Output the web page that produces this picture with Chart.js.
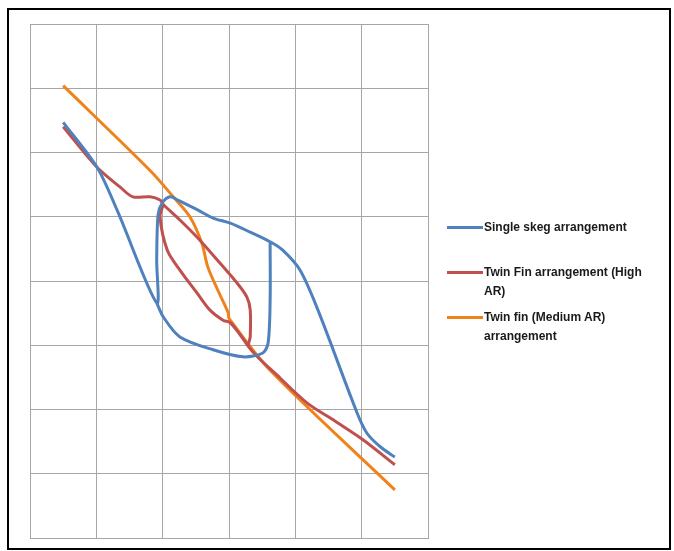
<!DOCTYPE html>
<html>
<head>
<meta charset="utf-8">
<script src="https://cdn.jsdelivr.net/npm/chart.js@4.4.0/dist/chart.umd.min.js"></script>
<style>
  body { margin: 0; background: #fff; }
  #wrap { position: relative; width: 674px; height: 551px; }
  #frame { position: absolute; left: 7px; top: 8px; width: 660px; height: 538px; border: 2px solid #000; }
  canvas { position: absolute; left: 0; top: 0; }
  .legend { position: absolute; left: 447px; font-family: "Liberation Sans Narrow", "Liberation Sans", Arial, sans-serif;
            font-weight: bold; font-size: 12px; line-height: 19px; color: #1a1a1a; width: 215px; }
  .legend .sw { position: absolute; left: 0; top: 8px; width: 36px; height: 3px; }
  .legend .txt { margin-left: 37px; }
</style>
</head>
<body>
<div id="wrap">
  <div id="frame"></div>
  <canvas id="canvas" width="674" height="551"></canvas>
  <div class="legend" style="top:218px"><div class="sw" style="background:#4F81BD"></div><div class="txt" id="lab0"></div></div>
  <div class="legend" style="top:263px"><div class="sw" style="background:#C0504D"></div><div class="txt" id="lab1"></div></div>
  <div class="legend" style="top:308px"><div class="sw" style="background:#F0821A"></div><div class="txt" id="lab2"></div></div>
</div>
<script>
//series names
const seriesNames = ["Single skeg arrangement", "Twin Fin arrangement (High AR)", "Twin fin (Medium AR) arrangement"];

//single skeg: main path over the top of the loop, then the lower branch (null = break in the line)
const skegX = [0.50, 1.01, 1.31, 1.91, 1.91, 1.93, 1.99, 2.11, 2.23, 2.52, 2.76, 3.02, 3.32, 3.62, 3.81, 4.07, 4.34, 4.93, 5.08, 5.28, 5.50,
               null,
               3.62, 3.62, 3.59, 3.51, 3.21, 2.76, 2.26, 2.01, 1.91];
const skegY = [6.47, 5.77, 5.11, 3.66, 4.33, 5.03, 5.21, 5.31, 5.26, 5.11, 4.98, 4.90, 4.76, 4.61, 4.48, 4.17, 3.55, 1.95, 1.63, 1.42, 1.26,
               null,
               4.61, 3.70, 3.04, 2.88, 2.82, 2.93, 3.13, 3.44, 3.66];

//twin fin high AR
const highX = [0.50, 1.01, 1.36, 1.55, 1.81, 1.96, 2.01, 2.26, 2.52, 2.82, 3.12, 3.27, 3.32, 3.32, 3.30, 3.77, 4.18, 4.57, 5.02, 5.50,
               null,
               2.01, 1.96, 2.07, 2.26, 2.52, 2.71, 2.91, 3.02, 3.17, 3.30];
const highY = [6.40, 5.77, 5.46, 5.31, 5.31, 5.26, 5.19, 4.95, 4.68, 4.33, 3.97, 3.75, 3.55, 3.13, 2.97, 2.49, 2.10, 1.84, 1.53, 1.14,
               null,
               5.19, 5.00, 4.48, 4.17, 3.81, 3.55, 3.39, 3.35, 3.16, 2.97];

//twin fin medium AR
const medX = [0.50, 1.81, 2.16, 2.41, 2.59, 2.68, 2.83, 2.99, 3.00, 3.62, 5.50];
const medY = [7.04, 5.72, 5.31, 5.00, 4.59, 4.22, 3.86, 3.50, 3.42, 2.61, 0.75];

const colors = ["#4F81BD", "#C0504D", "#F0821A"];

const toPoints = (xs, ys) => xs.map((x, i) => ({x: x === null ? NaN : x, y: ys[i] === null ? NaN : ys[i]}));

seriesNames.forEach((name, i) => { document.getElementById("lab" + i).innerText = name; });

const makeSet = (i, xs, ys) => ({
    label: seriesNames[i],
    data: toPoints(xs, ys),
    showLine: true,
    borderColor: colors[i],
    backgroundColor: colors[i],
    borderWidth: 3,
    pointRadius: 0,
    tension: 0.3,
    spanGaps: false
});

const context = document.getElementById("canvas").getContext('2d');
new Chart(context, {
    type: "scatter",
    data: {
        datasets: [makeSet(0, skegX, skegY), makeSet(1, highX, highY), makeSet(2, medX, medY)]
    },
    options: {
        responsive: false,
        animation: false,
        layout: { padding: { left: 30, top: 24, right: 246, bottom: 13 } },
        plugins: { legend: { display: false }, tooltip: { enabled: false } },
        scales: {
            x: {
                type: "linear", min: 0, max: 6,
                ticks: { display: false, stepSize: 1 },
                grid: { color: "#a6a6a6", lineWidth: 1, drawTicks: false },
                border: { color: "#a6a6a6" }
            },
            y: {
                type: "linear", min: 0, max: 8,
                ticks: { display: false, stepSize: 1 },
                grid: { color: "#a6a6a6", lineWidth: 1, drawTicks: false },
                border: { color: "#a6a6a6" }
            }
        }
    }
});
</script>
</body>
</html>
